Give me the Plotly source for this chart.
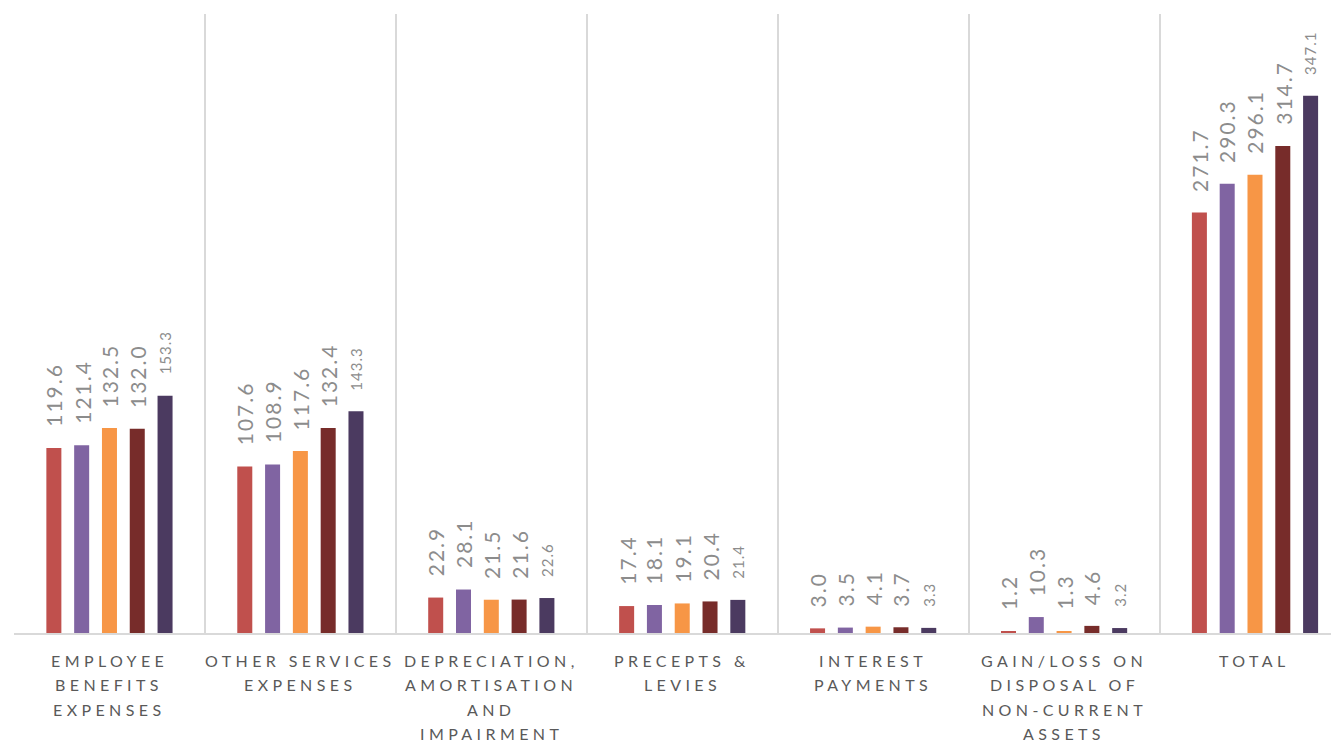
import plotly.graph_objects as go

categories = [
    ["EMPLOYEE", "BENEFITS", "EXPENSES"],
    ["OTHER SERVICES", "EXPENSES"],
    ["DEPRECIATION,", "AMORTISATION", "AND", "IMPAIRMENT"],
    ["PRECEPTS &amp;", "LEVIES"],
    ["INTEREST", "PAYMENTS"],
    ["GAIN/LOSS ON", "DISPOSAL OF", "NON-CURRENT", "ASSETS"],
    ["TOTAL"],
]
cat_keys = ["Employee", "Other", "Depreciation", "Precepts", "Interest", "GainLoss", "Total"]

series_names = ["Series 1", "Series 2", "Series 3", "Series 4", "Series 5"]
series_1 = [119.6, 107.6, 22.9, 17.4, 3.0, 1.2, 271.7]
series_2 = [121.4, 108.9, 28.1, 18.1, 3.5, 10.3, 290.3]
series_3 = [132.5, 117.6, 21.5, 19.1, 4.1, 1.3, 296.1]
series_4 = [132.0, 132.4, 21.6, 20.4, 3.7, 4.6, 314.7]
series_5 = [153.3, 143.3, 22.6, 21.4, 3.3, 3.2, 347.1]
all_series = [series_1, series_2, series_3, series_4, series_5]

colors = ["#C0504D", "#8064A2", "#F79646", "#772C2A", "#4B3A60"]
label_sizes = [21, 21, 21, 21, 15]
label_spacing = [2, 2, 2, 2, 1]

FONT = "Lato, Open Sans, sans-serif"

fig = go.Figure()
for name, vals, col in zip(series_names, all_series, colors):
    fig.add_trace(go.Bar(x=cat_keys, y=vals, name=name, marker_color=col,
                         marker_line_width=0))

slot_px = 27.8
for si, (vals, fs, ls) in enumerate(zip(all_series, label_sizes, label_spacing)):
    for ci, v in enumerate(vals):
        fig.add_annotation(
            x=cat_keys[ci], y=v, xref="x", yref="y",
            text=f'<span style="letter-spacing:{ls}px">{v:.1f}</span>',
            textangle=-90, showarrow=False,
            xanchor="center", yanchor="bottom",
            xshift=(si - 2) * slot_px, yshift=19,
            font=dict(family=FONT, size=fs, color="#8C8C8C"),
        )

# category labels, one annotation per line for Excel-like line spacing
for ci, lines in enumerate(categories):
    for li, ln in enumerate(lines):
        fig.add_annotation(
            x=cat_keys[ci], y=0, xref="x", yref="y",
            text=f'<span style="letter-spacing:4.4px">{ln}</span>',
            showarrow=False, xanchor="center", yanchor="middle",
            yshift=-(27 + 24.5 * li),
            font=dict(family=FONT, size=16, color="#595959"),
        )

fig.update_layout(
    width=1331, height=738,
    margin=dict(l=6, r=0, t=6, b=113),
    paper_bgcolor="white", plot_bgcolor="white",
    barmode="group", bargap=0.272, bargroupgap=0.46,
    showlegend=False,
    font=dict(family=FONT),
    xaxis=dict(
        tickmode="array", tickvals=cat_keys, showticklabels=False,
        tickson="boundaries", showgrid=True, gridcolor="#D9D9D9", gridwidth=1.5,
        ticks="", showline=True, linecolor="#D9D9D9", linewidth=2,
        range=[-0.5, 6.44],
    ),
    yaxis=dict(range=[0, 400], showgrid=False, showticklabels=False, zeroline=False,
               showline=False, ticks=""),
)

fig.write_html("out.html")
